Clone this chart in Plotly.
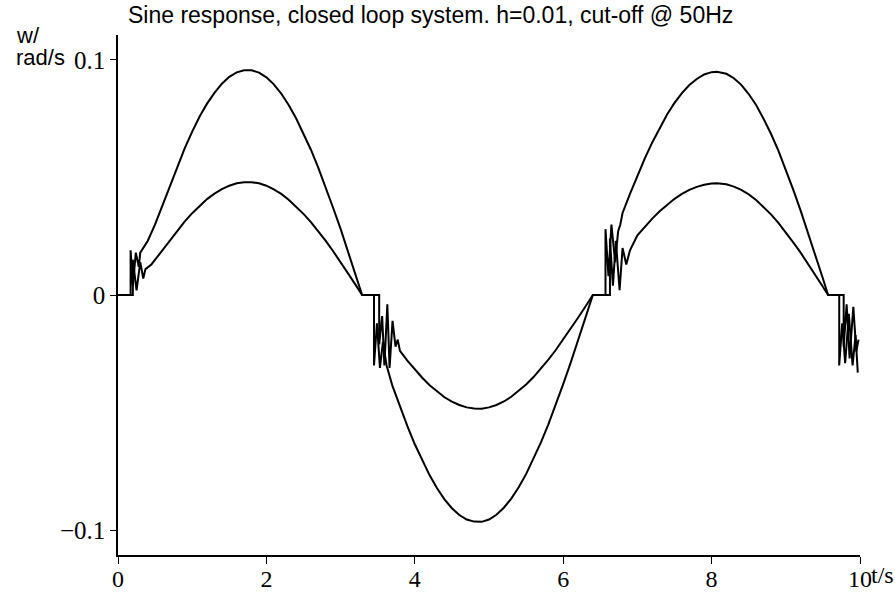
import plotly.graph_objects as go

# Speed response w (rad/s) of the closed loop to a sine input, two amplitudes.
t_big = [0.0, 0.17, 0.17, 0.20, 0.24, 0.28, 0.30,
         0.4, 0.5, 0.6, 0.7, 0.8, 0.9, 1.0, 1.1, 1.2, 1.3, 1.4, 1.5, 1.6, 1.7, 1.8,
         1.9, 2.0, 2.1, 2.2, 2.3, 2.4, 2.5, 2.6, 2.7, 2.8, 2.9, 3.0, 3.1, 3.2, 3.29,
         3.45, 3.45, 3.49, 3.53, 3.57, 3.62,
         3.7, 3.8, 3.9, 4.0, 4.1, 4.2, 4.3, 4.4, 4.5, 4.6, 4.7, 4.8, 4.9, 5.0,
         5.1, 5.2, 5.3, 5.4, 5.5, 5.6, 5.7, 5.8, 5.9, 6.0, 6.1, 6.2, 6.3, 6.40,
         6.57, 6.57, 6.61, 6.65, 6.70, 6.74, 6.77,
         6.8, 6.9, 7.0, 7.1, 7.2, 7.3, 7.4, 7.5, 7.6, 7.7, 7.8, 7.9, 8.0, 8.07,
         8.2, 8.3, 8.4, 8.5, 8.6, 8.7, 8.8, 8.9, 9.0, 9.1, 9.2, 9.3, 9.4, 9.5, 9.57,
         9.72, 9.72, 9.76, 9.80, 9.85, 9.90, 9.94, 9.97]
w_big = [0.0, 0.0, 0.019, 0.004, 0.018, 0.012, 0.018,
         0.0230, 0.0300, 0.0382, 0.0466, 0.0548, 0.0625, 0.0695, 0.0759, 0.0814, 0.0860,
         0.0899, 0.0928, 0.0947, 0.0956, 0.0956,
         0.0946, 0.0926, 0.0896, 0.0857, 0.0808, 0.0752, 0.0688, 0.0618, 0.0541, 0.0459,
         0.0370, 0.0281, 0.0183, 0.0088, 0.0,
         0.0, -0.030, -0.012, -0.031, -0.020, -0.030,
         -0.0388, -0.0475, -0.0558, -0.0635, -0.0704, -0.0767, -0.0822, -0.0869, -0.0907,
         -0.0936, -0.0955, -0.0964, -0.0965, -0.0955,
         -0.0935, -0.0905, -0.0866, -0.0818, -0.0762, -0.0698, -0.0627, -0.0550, -0.0468,
         -0.0379, -0.0289, -0.0193, -0.0097, 0.0,
         0.0, 0.028, 0.008, 0.030, 0.014, 0.027, 0.030,
         0.0349, 0.0430, 0.0508, 0.0581, 0.0649, 0.0711, 0.0768, 0.0817, 0.0859, 0.0893,
         0.0919, 0.0938, 0.0948, 0.0950,
         0.0941, 0.0922, 0.0894, 0.0855, 0.0808, 0.0750, 0.0686, 0.0614, 0.0534, 0.0448,
         0.0359, 0.0265, 0.0168, 0.0070, 0.0,
         0.0, -0.030, -0.012, -0.029, -0.008, -0.030, -0.017, -0.033]

t_small = [0.0, 0.20, 0.20, 0.25, 0.30, 0.34, 0.37,
           0.45, 0.5, 0.6, 0.7, 0.8, 0.9, 1.0, 1.1, 1.2, 1.3, 1.4, 1.5, 1.6, 1.7, 1.8,
           1.9, 2.0, 2.1, 2.2, 2.3, 2.4, 2.5, 2.6, 2.7, 2.8, 2.9, 3.0, 3.1, 3.2, 3.29,
           3.52, 3.52, 3.56, 3.59, 3.63, 3.66, 3.70, 3.74, 3.77,
           3.8, 3.9, 4.0, 4.1, 4.2, 4.3, 4.4, 4.5, 4.6, 4.7, 4.8, 4.9, 5.0,
           5.1, 5.2, 5.3, 5.4, 5.5, 5.6, 5.7, 5.8, 5.9, 6.0, 6.1, 6.2, 6.3, 6.40,
           6.63, 6.63, 6.67, 6.71, 6.76, 6.80, 6.85, 6.90,
           7.0, 7.1, 7.2, 7.3, 7.4, 7.5, 7.6, 7.7, 7.8, 7.9, 8.0, 8.07,
           8.2, 8.3, 8.4, 8.5, 8.6, 8.7, 8.8, 8.9, 9.0, 9.1, 9.2, 9.3, 9.4, 9.5, 9.57,
           9.78, 9.78, 9.82, 9.86, 9.91, 9.95, 9.98]
w_small = [0.0, 0.0, 0.015, 0.002, 0.014, 0.007, 0.011,
           0.0130, 0.0150, 0.0191, 0.0234, 0.0275, 0.0313, 0.0348, 0.0380, 0.0408, 0.0431,
           0.0450, 0.0465, 0.0475, 0.0480, 0.0480,
           0.0475, 0.0465, 0.0449, 0.0430, 0.0405, 0.0377, 0.0345, 0.0310, 0.0271, 0.0230,
           0.0186, 0.0141, 0.0092, 0.0044, 0.0,
           0.0, -0.021, -0.009, -0.030, -0.004, -0.031, -0.011, -0.022, -0.019,
           -0.0238, -0.0279, -0.0318, -0.0352, -0.0384, -0.0411, -0.0435, -0.0454, -0.0468,
           -0.0478, -0.0483, -0.0484, -0.0478,
           -0.0468, -0.0453, -0.0433, -0.0409, -0.0381, -0.0349, -0.0314, -0.0275, -0.0234,
           -0.0190, -0.0145, -0.0097, -0.0049, 0.0,
           0.0, 0.024, 0.004, 0.023, 0.002, 0.020, 0.013, 0.019,
           0.0254, 0.0290, 0.0325, 0.0356, 0.0384, 0.0409, 0.0430, 0.0447, 0.0460, 0.0469,
           0.0474, 0.0475,
           0.0471, 0.0461, 0.0447, 0.0428, 0.0404, 0.0375, 0.0343, 0.0307, 0.0267, 0.0224,
           0.0180, 0.0133, 0.0084, 0.0035, 0.0,
           0.0, -0.022, -0.004, -0.027, -0.005, -0.024, -0.019]

x_ticks = [0, 2, 4, 6, 8, 10]
x_tick_text = ["0", "2", "4", "6", "8", "10"]
y_ticks = [-0.1, 0, 0.1]
y_tick_text = ["\u22120.1", "0", "0.1"]

title_text = "Sine response, closed loop system. h=0.01, cut-off @ 50Hz"

fig = go.Figure()
for tt, ww in ((t_big, w_big), (t_small, w_small)):
    fig.add_trace(go.Scatter(x=tt, y=ww, mode="lines",
                             line=dict(color="black", width=2), hoverinfo="skip"))

serif = "Liberation Serif, Times New Roman, serif"
sans = "Liberation Sans, Arial, sans-serif"

fig.update_layout(
    width=895, height=593,
    margin=dict(l=118, r=35, t=35, b=38),
    paper_bgcolor="white", plot_bgcolor="white",
    showlegend=False,
    xaxis=dict(range=[0, 10], tickvals=x_ticks, ticktext=x_tick_text, automargin=False,
               showgrid=False, zeroline=False, showline=True, linecolor="black",
               linewidth=1.5, ticks="outside", ticklen=7, tickwidth=1.2,
               ticklabelstandoff=-6,
               tickcolor="black", tickfont=dict(family=serif, size=24, color="black")),
    yaxis=dict(range=[-0.1106, 0.1106], tickvals=y_ticks, ticktext=y_tick_text,
               automargin=False,
               showgrid=False, zeroline=False, showline=True, linecolor="black",
               linewidth=1.5, ticks="outside", ticklen=6, tickwidth=1.2,
               tickcolor="black", tickfont=dict(family=serif, size=25, color="black")),
)

annotations = [
    dict(text=title_text, xref="paper", yref="paper", x=(126 - 118) / 742,
         y=(555 - 15) / 520, xanchor="left", yanchor="middle", showarrow=False,
         font=dict(family=sans, size=23, color="black")),
    dict(text="w/", xref="paper", yref="paper", x=(14 - 118) / 742,
         y=(555 - 35) / 520, xanchor="left", yanchor="middle", showarrow=False,
         font=dict(family=sans, size=22, color="black")),
    dict(text="rad/s", xref="paper", yref="paper", x=(14 - 118) / 742,
         y=(555 - 58) / 520, xanchor="left", yanchor="middle", showarrow=False,
         font=dict(family=sans, size=22, color="black")),
    dict(text="t/s", xref="x", yref="paper", x=10, y=(555 - 575) / 520,
         xanchor="left", yanchor="middle", xshift=9, showarrow=False,
         font=dict(family=serif, size=24, color="black")),
]
fig.update_layout(annotations=annotations)

fig.write_html("out.html")
